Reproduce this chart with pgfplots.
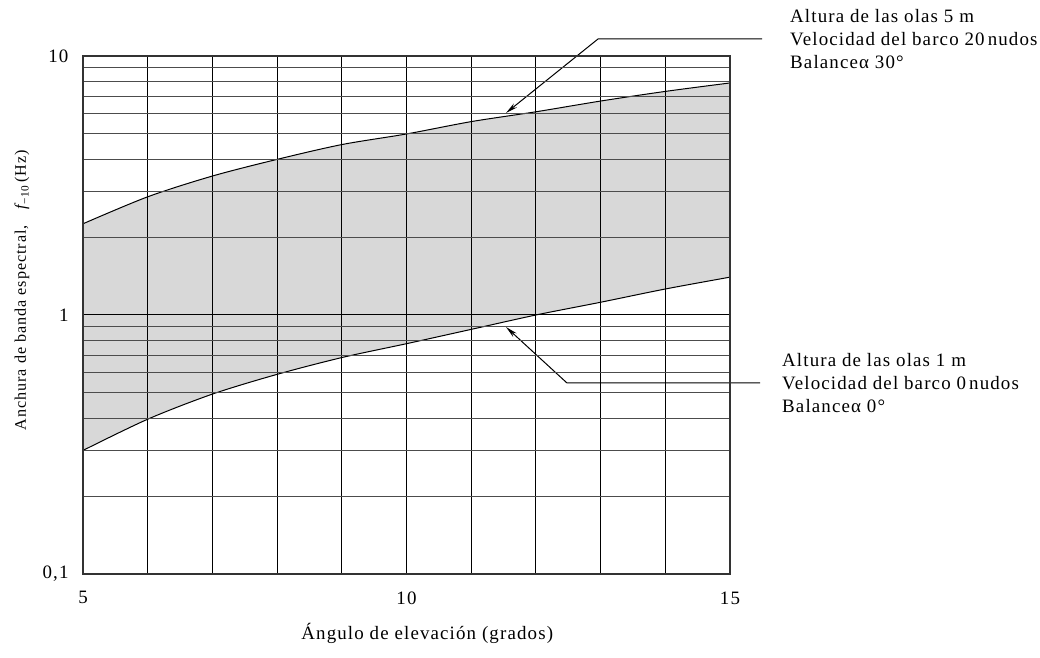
\documentclass[border=0pt]{standalone}
\usepackage{fontspec}
\setmainfont{Liberation Serif}
\newfontfamily\spaced{Liberation Serif}[LetterSpace=6]
\usepackage{pgfplots}
\pgfplotsset{compat=1.18}
\usepgfplotslibrary{fillbetween}
\usetikzlibrary{arrows.meta}
\definecolor{band}{RGB}{216,216,216}

\begin{document}
\begin{tikzpicture}[font=\fontsize{19}{23.5}\selectfont\spaced]
	\begin{axis}[
		at={(83bp,84bp)}, anchor=south west,
		scale only axis,
		width=647bp, height=518bp,
		xmin=5, xmax=15,
		ymode=log, ymin=0.1, ymax=10,
		xtick={5,...,15},
		xticklabels={5,,,,,10,,,,,15},
		ytick={0.1,1,10},
		yticklabels={{0,1},1,10},
		grid=both,
		major grid style={black, line width=1bp},
		minor grid style={black!70, line width=1bp},
		axis line style={black!80, line width=1.2bp},
		major tick length=0pt, minor tick length=0pt,
		xticklabel style={yshift=-14bp},
		yticklabel style={xshift=-11bp},
		axis on top,
		xlabel={Ángulo de elevación (grados)},
		xlabel style={at={(axis description cs:0.532,0)}, anchor=center, yshift=-59bp},
		ylabel={Anchura de banda espectral,\quad{\itshape f}\textsubscript{−10}\,(Hz)},
		ylabel style={at={(axis description cs:-0.0943,0.548)}, anchor=center,
			font=\fontsize{16.2}{20}\selectfont\spaced},
	]
		% upper: olas 5 m, 20 nudos, balanceo 30
		\addplot[name path=U, black, line width=1bp, smooth] coordinates {
			(5,2.25) (6,2.86) (7,3.44) (8,3.99) (9,4.55) (10,5.0)
			(11,5.58) (12,6.09) (13,6.7) (14,7.3) (15,7.87)
		};
		% lower: olas 1 m, 0 nudos, balanceo 0
		\addplot[name path=L, black, line width=1bp, smooth] coordinates {
			(5,0.30) (6,0.396) (7,0.495) (8,0.59) (9,0.685) (10,0.775)
			(11,0.88) (12,1.0) (13,1.12) (14,1.26) (15,1.40)
		};
		\addplot[band, draw=none] fill between[of=U and L];
	\end{axis}

	% leaders
	\draw[line width=1bp, -{Stealth[length=12bp,width=5bp]}]
		(762bp,619bp) -- (598bp,619bp) -- (506bp,545bp);
	\draw[line width=1bp, -{Stealth[length=12bp,width=5bp]}]
		(760bp,275bp) -- (567bp,275bp) -- (506bp,331bp);

	\node[anchor=west, align=left, inner sep=0pt] at (790bp,619bp)
		{Altura de las olas 5 m\\Velocidad del barco 20\,nudos\\Balanceα 30°};
	\node[anchor=west, align=left, inner sep=0pt] at (782bp,275bp)
		{Altura de las olas 1 m\\Velocidad del barco 0\,nudos\\Balanceα 0°};

	\pgfresetboundingbox
	\useasboundingbox (0,0) rectangle (1040bp,658bp);
\end{tikzpicture}
\end{document}
